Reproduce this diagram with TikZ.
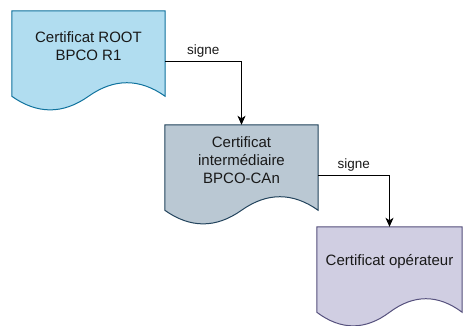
\documentclass[tikz,border=0pt]{standalone}
\usepackage{fontspec}
\setmainfont{Liberation Sans}
\usepackage{xcolor}
\usepackage{tikz}
\usetikzlibrary{arrows.meta, positioning, calc, backgrounds}

\definecolor{rootfill}{HTML}{B1DDF0}
\definecolor{rootline}{HTML}{10739E}
\definecolor{interfill}{HTML}{BAC8D3}
\definecolor{interline}{HTML}{23445D}
\definecolor{operfill}{HTML}{D0CEE2}
\definecolor{operline}{HTML}{56517E}

% contour d'un document (bas ondule) autour du noeud #1
\newcommand{\docpath}[1]{%
  let \p1=(#1.north west), \p2=(#1.south east),
      \n1={(\y1-\y2)*3/7}, \n2={(\x2-\x1)/6},
      \n3={\y2-0.5*\n1}, \n4={(\x1+\x2)/2}
  in (\p1) -- (\x2,\y1) -- (\x2,\n3)
  .. controls (\x2-\n2,\n3+0.6*\n1) and (\n4+\n2,\n3+0.6*\n1) .. (\n4,\n3)
  .. controls (\n4-\n2,\n3-0.6*\n1) and (\x1+\n2,\n3-0.6*\n1) .. (\x1,\n3) -- cycle}

\begin{document}
\begin{tikzpicture}[x=1pt, y=1pt,
    certif/.style={minimum width=153pt, minimum height=70pt, inner sep=0pt,
      align=center, text=black!90, font=\fontsize{15}{18}\selectfont},
    docshadow/.style={fill=black, opacity=0.22, shift={(2pt,-3pt)}},
    signearrow/.style={line width=1pt, -{Stealth[length=9pt, width=8pt, inset=2.5pt]}},
    signelabel/.style={text=black!90, font=\fontsize{13.5}{16}\selectfont}]
    \useasboundingbox (0,0) rectangle (463,-325);

    \node[certif] (root) at (88.5,-46) {Certificat ROOT\\BPCO R1};
    \node[certif] (inter) at (241.5,-160) {Certificat\\interm\'ediaire\\BPCO-CAn};
    \node[certif, minimum width=145pt] (oper) at (389.5,-262) {Certificat op\'erateur};

    % formes des documents
    \begin{scope}[on background layer]
    \foreach \doc/\fc/\dc in {root/rootfill/rootline, inter/interfill/interline, oper/operfill/operline}{
        \fill[docshadow] \docpath{\doc};
        \filldraw[fill=\fc, draw=\dc, line width=1pt] \docpath{\doc};
    }
    \end{scope}

    % liens de signature
    \draw[signearrow] ([yshift=-15pt]root.east) -| node[pos=0.25, above, signelabel] {signe} (inter.north);
    \draw[signearrow] ([yshift=-15pt]inter.east) -| node[pos=0.25, above, signelabel] {signe} (oper.north);
\end{tikzpicture}
\end{document}
